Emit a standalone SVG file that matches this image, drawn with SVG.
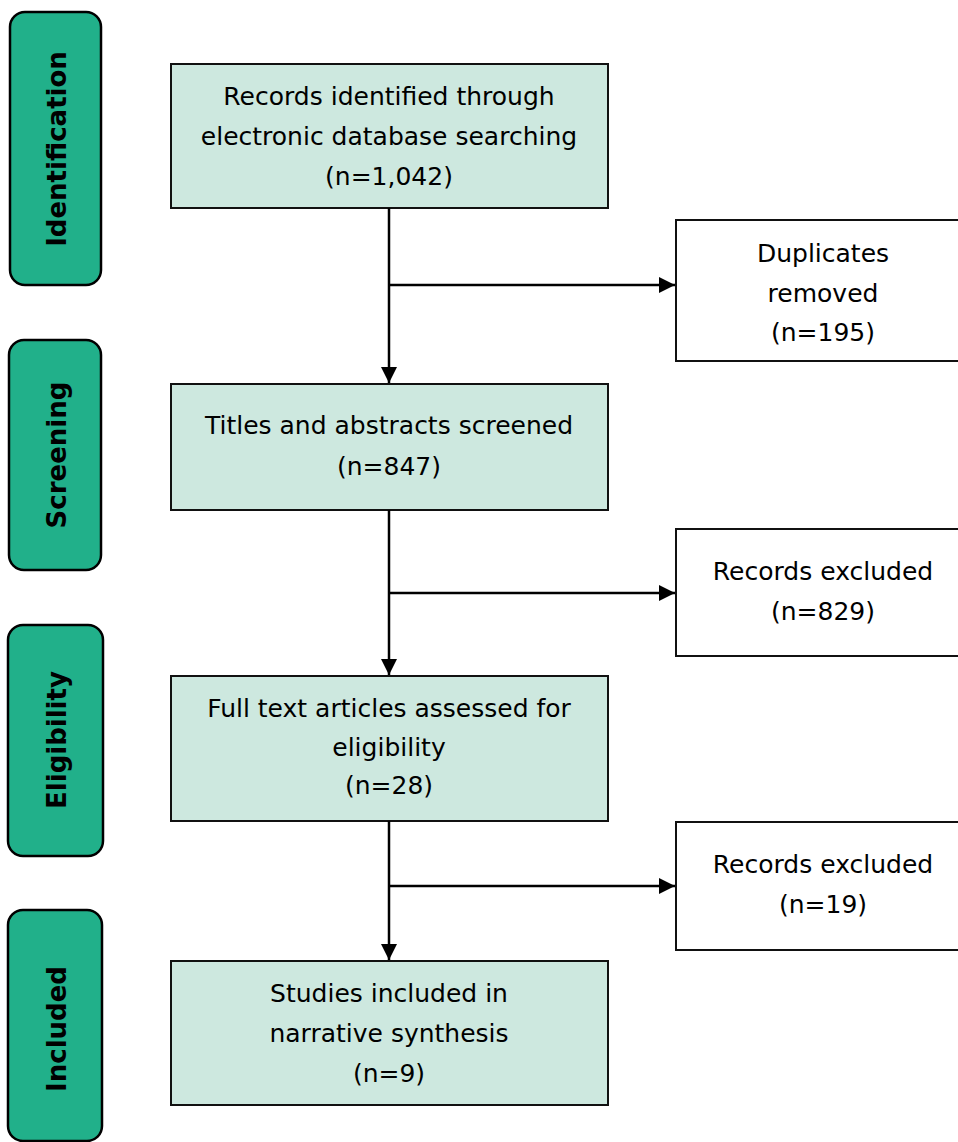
<svg xmlns="http://www.w3.org/2000/svg" width="958" height="1142" viewBox="0 0 958 1142">
  <defs>
    <marker id="arrow" viewBox="0 0 16 16" refX="16" refY="8" markerWidth="16" markerHeight="16" markerUnits="userSpaceOnUse" orient="auto">
      <path d="M0,0 L16,8 L0,16 Z" fill="#000"/>
    </marker>
    <style>
      .stage { fill: #21B08A; stroke: #000; stroke-width: 2.5; }
      .stage-text { font-family: "DejaVu Sans", Verdana, sans-serif; font-weight: bold; font-size: 26px; fill: #000; text-anchor: middle; }
      .main { fill: #CDE8DF; stroke: #111; stroke-width: 2; }
      .side { fill: #FFFFFF; stroke: #111; stroke-width: 2; }
      .label { font-family: "DejaVu Sans", Verdana, sans-serif; font-size: 25px; fill: #000; text-anchor: middle; }
      .conn { stroke: #000; stroke-width: 2.5; fill: none; }
    </style>
  </defs>
  <rect width="958" height="1142" fill="#FFFFFF"/>

  <g id="stage-identification">
    <rect class="stage" x="10" y="12" width="91" height="273" rx="15" ry="15"/>
    <text class="stage-text" transform="translate(66,149) rotate(-90)">Identification</text>
  </g>
  <g id="stage-screening">
    <rect class="stage" x="9" y="340" width="92" height="230" rx="15" ry="15"/>
    <text class="stage-text" transform="translate(66,455) rotate(-90)">Screening</text>
  </g>
  <g id="stage-eligibility">
    <rect class="stage" x="8" y="625" width="95" height="231" rx="15" ry="15"/>
    <text class="stage-text" transform="translate(66,740) rotate(-90)">Eligibility</text>
  </g>
  <g id="stage-included">
    <rect class="stage" x="8" y="910" width="94" height="231" rx="15" ry="15"/>
    <text class="stage-text" transform="translate(66,1029) rotate(-90)">Included</text>
  </g>

  <g id="node-identified">
    <rect class="main" x="171" y="64" width="437" height="144"/>
    <text class="label" x="389" y="105">Records identified through</text>
    <text class="label" x="389" y="145">electronic database searching</text>
    <text class="label" x="389" y="185">(n=1,042)</text>
  </g>
  <g id="node-duplicates">
    <rect class="side" x="676" y="220" width="300" height="141"/>
    <text class="label" x="823" y="262">Duplicates</text>
    <text class="label" x="823" y="302">removed</text>
    <text class="label" x="823" y="341">(n=195)</text>
  </g>
  <g id="node-screened">
    <rect class="main" x="171" y="384" width="437" height="126"/>
    <text class="label" x="389" y="434">Titles and abstracts screened</text>
    <text class="label" x="389" y="475">(n=847)</text>
  </g>
  <g id="node-excluded-1">
    <rect class="side" x="676" y="529" width="300" height="127"/>
    <text class="label" x="823" y="580">Records excluded</text>
    <text class="label" x="823" y="620">(n=829)</text>
  </g>
  <g id="node-fulltext">
    <rect class="main" x="171" y="676" width="437" height="145"/>
    <text class="label" x="389" y="717">Full text articles assessed for</text>
    <text class="label" x="389" y="756">eligibility</text>
    <text class="label" x="389" y="794">(n=28)</text>
  </g>
  <g id="node-excluded-2">
    <rect class="side" x="676" y="822" width="300" height="128"/>
    <text class="label" x="823" y="873">Records excluded</text>
    <text class="label" x="823" y="913">(n=19)</text>
  </g>
  <g id="node-included">
    <rect class="main" x="171" y="961" width="437" height="144"/>
    <text class="label" x="389" y="1002">Studies included in</text>
    <text class="label" x="389" y="1042">narrative synthesis</text>
    <text class="label" x="389" y="1082">(n=9)</text>
  </g>

  <g id="connectors">
    <line class="conn" x1="389" y1="208" x2="389" y2="383" marker-end="url(#arrow)"/>
    <line class="conn" x1="389" y1="285" x2="675" y2="285" marker-end="url(#arrow)"/>
    <line class="conn" x1="389" y1="510" x2="389" y2="675" marker-end="url(#arrow)"/>
    <line class="conn" x1="389" y1="593" x2="675" y2="593" marker-end="url(#arrow)"/>
    <line class="conn" x1="389" y1="821" x2="389" y2="960" marker-end="url(#arrow)"/>
    <line class="conn" x1="389" y1="886" x2="675" y2="886" marker-end="url(#arrow)"/>
  </g>
</svg>
